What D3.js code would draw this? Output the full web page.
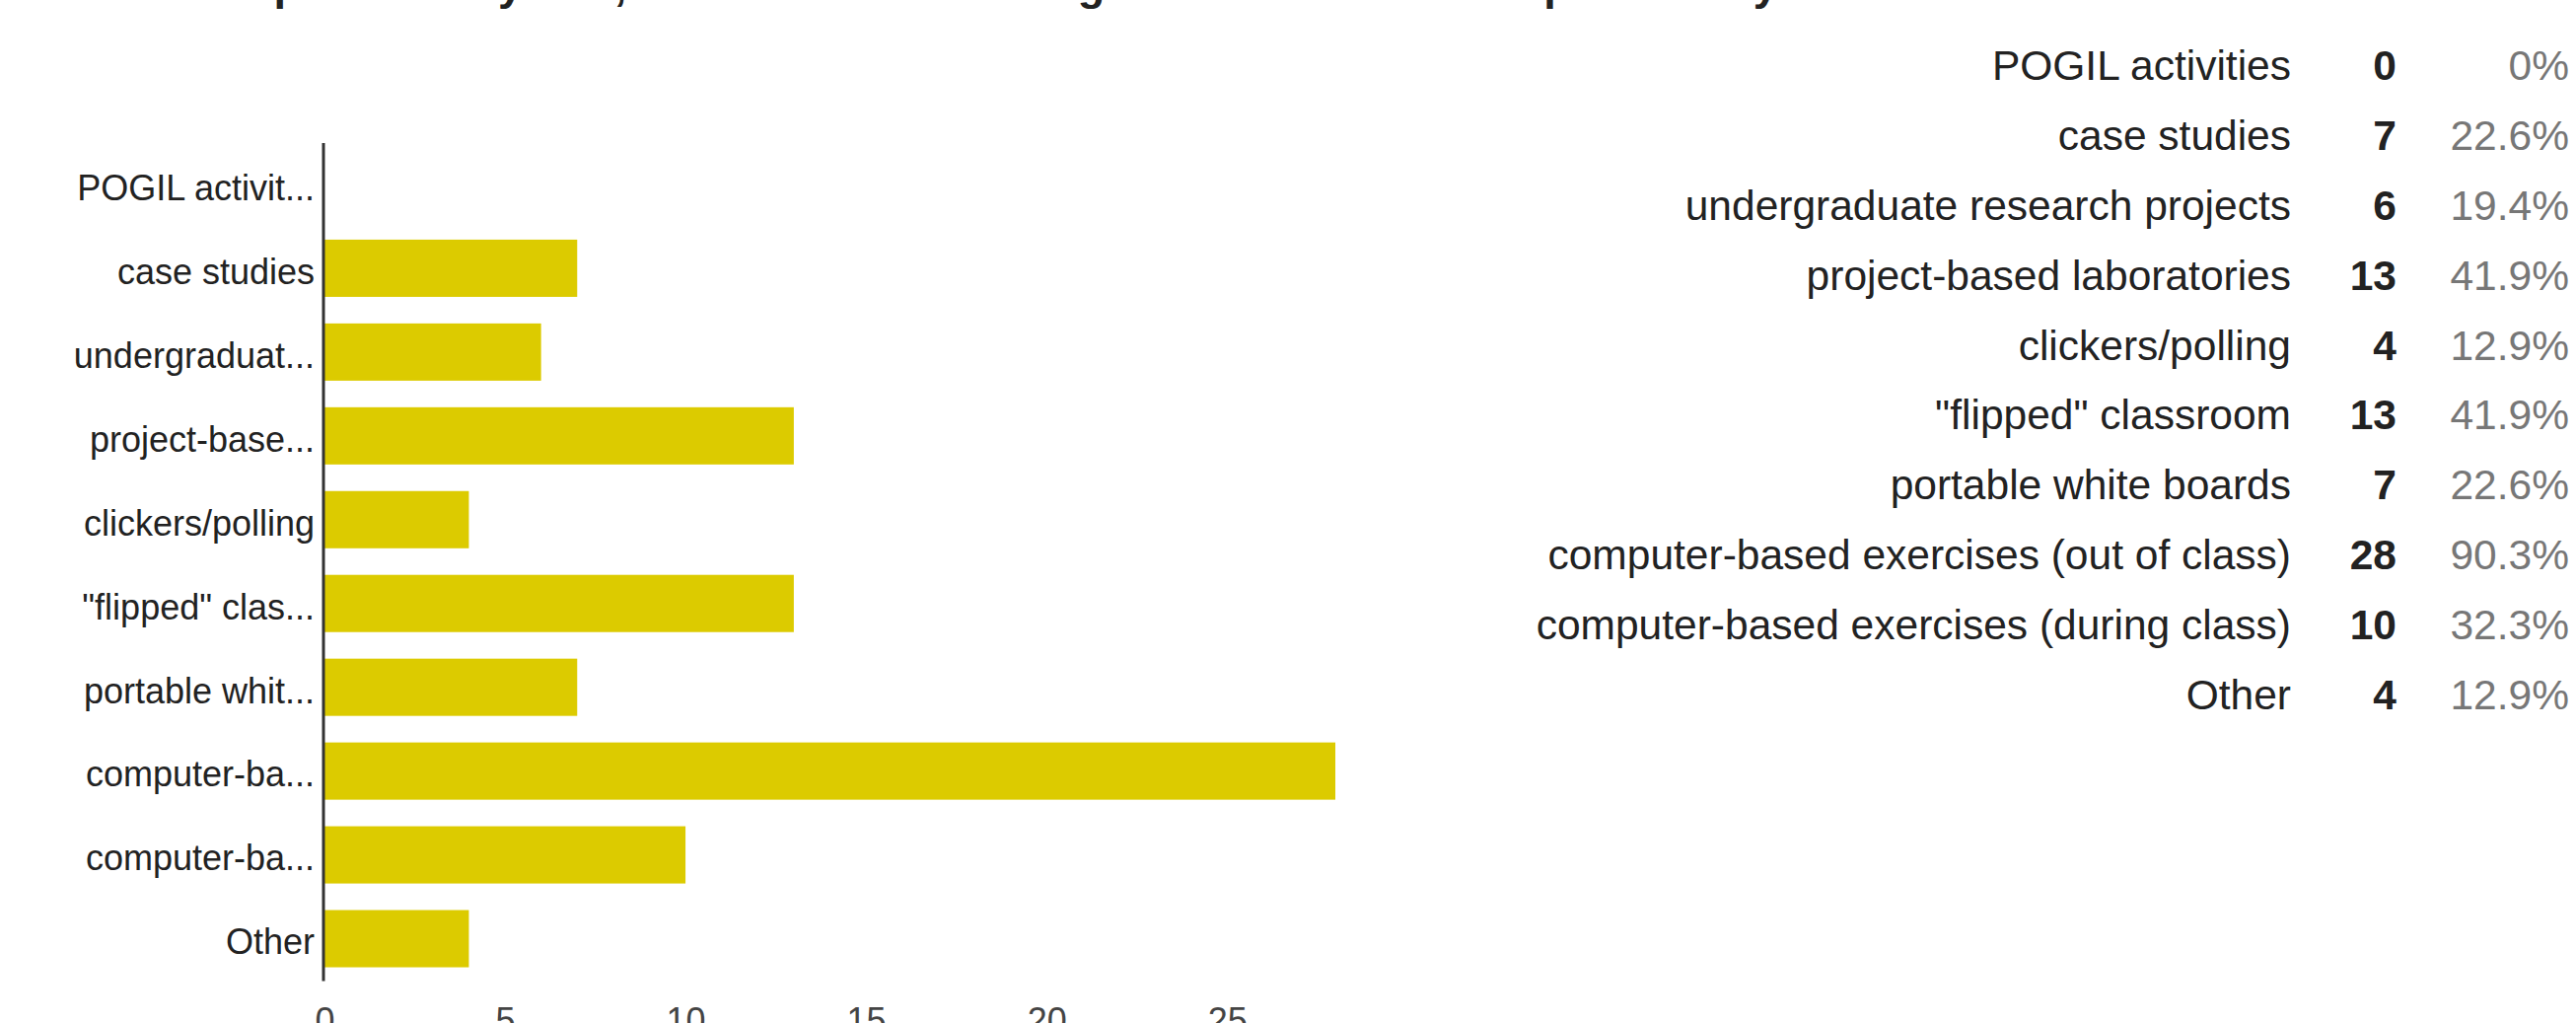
<!DOCTYPE html>
<html>
<head>
<meta charset="utf-8">
<script src="https://cdn.jsdelivr.net/npm/d3@7"></script>
<style>
  html, body { margin: 0; padding: 0; background: #fff; }
  svg { display: block; font-family: "Liberation Sans", Arial, sans-serif; }
</style>
</head>
<body>
<div id="chart"></div>
<script>
// Survey answers, in the order they are listed
const categories = [
    "POGIL activities",
    "case studies",
    "undergraduate research projects",
    "project-based laboratories",
    "clickers/polling",
    "\"flipped\" classroom",
    "portable white boards",
    "computer-based exercises (out of class)",
    "computer-based exercises (during class)",
    "Other"
];
// Labels as the bar chart shows them (cut short)
const axisLabels = [
    "POGIL activit...",
    "case studies",
    "undergraduat...",
    "project-base...",
    "clickers/polling",
    "\"flipped\" clas...",
    "portable whit...",
    "computer-ba...",
    "computer-ba...",
    "Other"
];
const counts = [0, 7, 6, 13, 4, 13, 7, 28, 10, 4];
const percents = [0, 22.6, 19.4, 41.9, 12.9, 41.9, 22.6, 90.3, 32.3, 12.9];
const xTicks = [0, 5, 10, 15, 20, 25];
const titleText = "In the past three years, which of the following tools have been adopted in any course?";

const config = {
    width: 2612,
    height: 1037,
    barColor: "#dccb00",
    plot: { left: 329, right: 1354, top: 144.5, bottom: 994 },
    table: { labelX: 2323, countX: 2430, pctX: 2605, firstRow: 81, lastRow: 719 }
};

const data = categories.map((c, i) => ({
    name: c, label: axisLabels[i], count: counts[i], pct: percents[i]
}));

const svg = d3.select("#chart")
    .append("svg")
    .attr("width", config.width)
    .attr("height", config.height);

// Title, mostly cut off by the top edge
svg.append("text")
    .attr("x", 145)
    .attr("y", 0)
    .style("font-size", "45px")
    .style("font-weight", "bold")
    .attr("fill", "#222")
    .text(titleText);

// Scales
const x = d3.scaleLinear()
    .domain([0, 28])
    .range([config.plot.left, config.plot.right]);

const y = d3.scaleBand()
    .domain(categories)
    .range([config.plot.top, config.plot.bottom])
    .paddingInner(0.317)
    .paddingOuter(0.1585);

// Bars
svg.append("g")
    .selectAll("rect")
    .data(data)
    .enter()
    .append("rect")
    .attr("x", x(0))
    .attr("y", d => y(d.name))
    .attr("width", d => x(d.count) - x(0))
    .attr("height", y.bandwidth())
    .attr("fill", config.barColor);

// Category axis
const yAxis = svg.append("g")
    .attr("transform", `translate(${config.plot.left - 1.5},0)`)
    .call(d3.axisLeft(y)
        .tickSize(0)
        .tickPadding(8.5)
        .tickFormat((d, i) => axisLabels[i]));

yAxis.select(".domain")
    .attr("stroke", "#333")
    .attr("stroke-width", 3);

yAxis.selectAll("text")
    .attr("dy", "0.44em")
    .attr("fill", "#222")
    .style("font-size", "36px")
    .style("font-family", "\"Liberation Sans\", Arial, sans-serif");

// Value axis (labels only)
const xAxis = svg.append("g")
    .attr("transform", "translate(0,1021.4)")
    .call(d3.axisBottom(x)
        .tickValues(xTicks)
        .tickSize(0)
        .tickPadding(0)
        .tickFormat(d3.format("d")));

xAxis.select(".domain").remove();
xAxis.selectAll("text")
    .attr("fill", "#444")
    .style("font-size", "36px")
    .style("font-family", "\"Liberation Sans\", Arial, sans-serif");

// Summary table on the right
const rowY = d3.scalePoint()
    .domain(categories)
    .range([config.table.firstRow, config.table.lastRow]);

const rows = svg.append("g")
    .selectAll("g")
    .data(data)
    .enter()
    .append("g")
    .attr("transform", d => `translate(0,${rowY(d.name)})`)
    .style("font-size", "42.5px")
    .attr("text-anchor", "end");

rows.append("text")
    .attr("x", config.table.labelX)
    .attr("fill", "#222")
    .text(d => d.name);

rows.append("text")
    .attr("x", config.table.countX)
    .attr("fill", "#222")
    .style("font-weight", "bold")
    .text(d => d.count);

rows.append("text")
    .attr("x", config.table.pctX)
    .attr("fill", "#777")
    .text(d => `${d.pct}%`);
</script>
</body>
</html>
